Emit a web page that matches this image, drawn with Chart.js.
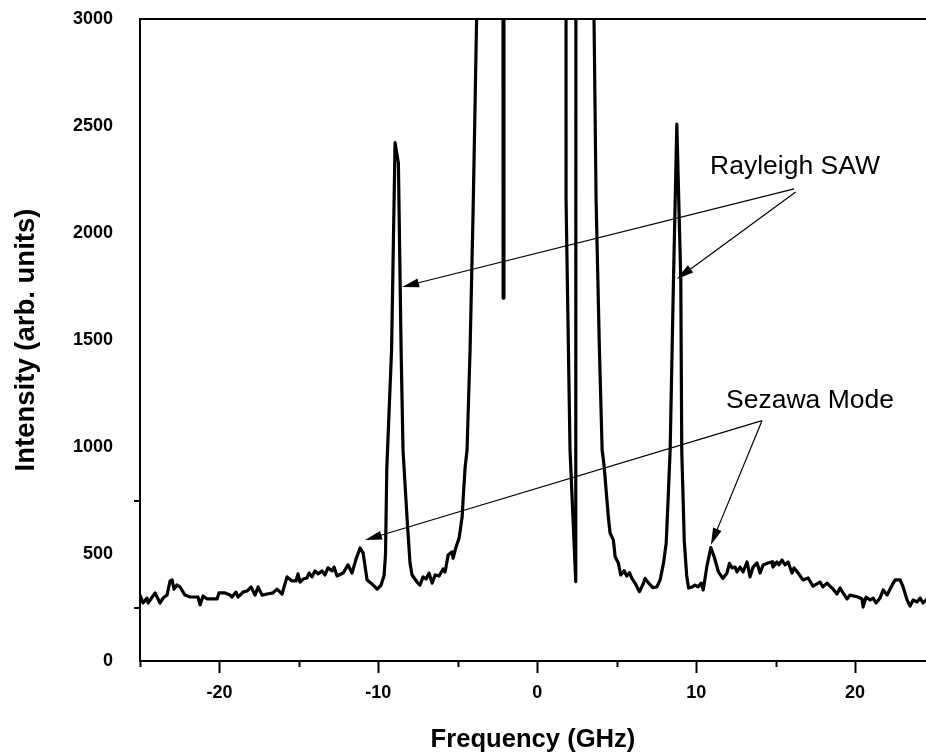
<!DOCTYPE html>
<html>
<head>
<meta charset="utf-8">
<title>Brillouin spectrum</title>
<script src="https://cdn.jsdelivr.net/npm/chart.js@4/dist/chart.umd.min.js"></script>
<style>
    html, body { margin: 0; padding: 0; background: #fff; }
    canvas { display: block; }
</style>
</head>
<body>
<canvas id="spectrumChart" width="926" height="756"></canvas>
<script>
    const freqGHz = [
        -25.00, -24.81, -24.56, -24.49, -24.05, -23.74, -23.55, -23.30, -23.11, -22.98,
        -22.86, -22.67, -22.48, -22.17, -21.85, -21.35, -21.22, -21.03, -20.78, -20.15,
        -20.03, -19.65, -19.33, -19.21, -18.96, -18.83, -18.52, -18.26, -18.01, -17.76,
        -17.57, -17.32, -17.00, -16.63, -16.38, -16.06, -15.75, -15.43, -15.18, -15.06,
        -14.93, -14.74, -14.49, -14.36, -14.17, -13.99, -13.80, -13.54, -13.36, -13.17,
        -12.91, -12.79, -12.60, -12.22, -11.91, -11.66, -11.40, -11.15, -10.96, -10.71,
        -10.40, -10.08, -9.83, -9.64, -9.55, -9.47, -9.17, -8.95, -8.74, -8.57,
        -8.45, -8.20, -8.01, -7.88, -7.57, -7.38, -7.19, -7.00, -6.81, -6.62,
        -6.43, -6.18, -5.93, -5.80, -5.61, -5.36, -5.30, -5.11, -4.92, -4.73,
        -4.67, -4.54, -4.42, -4.23, -4.04, -3.91, -3.82, -3.00, -2.20, -2.15,
        -2.10, 0.00, 1.78, 1.81, 2.06, 2.42, 2.47, 3.55, 3.57, 3.70,
        3.91, 4.08, 4.20, 4.47, 4.58, 4.79, 4.90, 5.10, 5.25, 5.46,
        5.63, 5.80, 5.95, 6.15, 6.43, 6.68, 6.78, 7.05, 7.27, 7.52,
        7.73, 7.94, 8.11, 8.23, 8.36, 8.57, 8.78, 9.03, 9.09, 9.25,
        9.40, 9.52, 9.74, 9.93, 10.12, 10.31, 10.44, 10.67, 10.92, 11.13,
        11.40, 11.67, 11.93, 12.09, 12.26, 12.45, 12.57, 12.76, 12.95, 13.20,
        13.39, 13.58, 13.83, 14.02, 14.21, 14.52, 14.77, 14.83, 15.08, 15.21,
        15.40, 15.59, 15.78, 16.03, 16.16, 16.41, 16.72, 17.04, 17.35, 17.79,
        17.98, 18.23, 18.55, 18.86, 19.05, 19.24, 19.49, 19.68, 20.19, 20.44,
        20.50, 20.69, 20.94, 21.13, 21.32, 21.57, 21.76, 22.01, 22.33, 22.52,
        22.83, 23.02, 23.27, 23.46, 23.65, 23.90, 24.09, 24.28, 24.46
    ];
    const intensity = [
        308, 271, 294, 271, 318, 271, 294, 308, 374, 379,
        336, 355, 346, 308, 299, 299, 262, 304, 290, 290,
        318, 318, 308, 299, 322, 299, 322, 327, 346, 308,
        346, 308, 313, 318, 336, 313, 393, 374, 374, 407,
        369, 383, 388, 411, 393, 421, 407, 421, 402, 435,
        421, 439, 397, 411, 449, 411, 477, 528, 505, 379,
        360, 336, 355, 400, 500, 900, 1453, 2422, 2327, 1453,
        986, 673, 458, 402, 369, 355, 393, 383, 411, 364,
        402, 397, 430, 416, 495, 510, 480, 533, 575, 673,
        752, 907, 986, 1453, 2100, 2621, 3000, 15000, 15000, 1696,
        15000, 15000, 15000, 2154, 986, 371, 15000, 15000, 3000, 2154,
        1453, 986, 916, 674, 598, 565, 487, 458, 402, 422,
        397, 413, 386, 364, 324, 363, 386, 360, 343, 346,
        379, 456, 550, 752, 986, 1780, 2509, 1780, 986, 560,
        400, 341, 346, 355, 346, 364, 332, 441, 530, 487,
        416, 386, 410, 456, 435, 439, 416, 439, 416, 463,
        393, 439, 458, 411, 449, 458, 463, 439, 463, 449,
        472, 449, 463, 411, 435, 411, 379, 388, 350, 369,
        346, 364, 341, 313, 341, 318, 290, 308, 299, 290,
        252, 299, 285, 294, 271, 294, 332, 308, 355, 379,
        379, 346, 285, 257, 285, 276, 294, 271, 285
    ];

    const xMajorTicks = [-20, -10, 0, 10, 20];
    const xMinorTicks = [-25, -15, -5, 5, 15];
    const yTicks = [0, 500, 1000, 1500, 2000, 2500, 3000];
    const yMarkTicks = [250, 750];

    // callouts, in data units
    const noteLabels = [
        { text: 'Rayleigh SAW', x: 10.87, y: 2276 },
        { text: 'Sezawa Mode', x: 11.88, y: 1182 },
    ];
    const noteArrows = [
        { from: [16.16, 2206], to: [-8.51, 1748] },
        { from: [16.26, 2192], to: [8.78, 1785] },
        { from: [14.14, 1123], to: [-10.84, 565] },
        { from: [14.14, 1123], to: [10.92, 542] },
    ];

    const FONT = "'Liberation Sans', Arial, Helvetica, sans-serif";

    function drawArrow(ctx, x1, y1, x2, y2) {
        const ang = Math.atan2(y2 - y1, x2 - x1);
        const len = 17, half = 4.5;
        ctx.beginPath();
        ctx.moveTo(x1, y1);
        ctx.lineTo(x2 - Math.cos(ang) * (len - 2), y2 - Math.sin(ang) * (len - 2));
        ctx.stroke();
        const bx = x2 - Math.cos(ang) * len, by = y2 - Math.sin(ang) * len;
        ctx.beginPath();
        ctx.moveTo(x2, y2);
        ctx.lineTo(bx + Math.sin(ang) * half, by - Math.cos(ang) * half);
        ctx.lineTo(bx - Math.sin(ang) * half, by + Math.cos(ang) * half);
        ctx.closePath();
        ctx.fill();
    }

    const framePlugin = {
        id: 'frame',
        afterDraw(chart) {
            const { ctx, chartArea: a, scales: { x, y } } = chart;
            ctx.save();
            ctx.strokeStyle = '#000';
            ctx.fillStyle = '#000';

            // top border
            ctx.lineWidth = 2;
            ctx.beginPath();
            ctx.moveTo(a.left - 1, a.top);
            ctx.lineTo(a.right, a.top);
            ctx.stroke();

            // short ticks
            xMinorTicks.forEach((v) => {
                const px = Math.round(x.getPixelForValue(v)) + 0.5;
                ctx.beginPath();
                ctx.moveTo(px, a.bottom);
                ctx.lineTo(px, a.bottom + 6);
                ctx.stroke();
            });
            yMarkTicks.forEach((v) => {
                const py = Math.round(y.getPixelForValue(v));
                ctx.beginPath();
                ctx.moveTo(a.left - 6, py);
                ctx.lineTo(a.left, py);
                ctx.stroke();
            });

            // callouts
            ctx.lineWidth = 1.2;
            noteArrows.forEach((n) => {
                drawArrow(ctx,
                    x.getPixelForValue(n.from[0]), y.getPixelForValue(n.from[1]),
                    x.getPixelForValue(n.to[0]), y.getPixelForValue(n.to[1]));
            });
            ctx.font = `26.5px ${FONT}`;
            ctx.textAlign = 'left';
            ctx.textBaseline = 'alphabetic';
            noteLabels.forEach((n) => {
                ctx.fillText(n.text, x.getPixelForValue(n.x), y.getPixelForValue(n.y));
            });
            ctx.restore();
        }
    };

    new Chart(document.getElementById('spectrumChart'), {
        type: 'line',
        data: {
            datasets: [{
                data: freqGHz.map((f, i) => ({ x: f, y: intensity[i] })),
                borderColor: '#000',
                borderWidth: 3.2,
                borderJoinStyle: 'round',
                borderCapStyle: 'round',
                pointRadius: 0,
                tension: 0,
                fill: false,
                clip: 0,
            }],
        },
        options: {
            responsive: false,
            animation: false,
            events: [],
            layout: { padding: { top: 19, right: 0, left: 0, bottom: 0 } },
            plugins: { legend: { display: false }, tooltip: { enabled: false } },
            scales: {
                x: {
                    type: 'linear',
                    min: -25,
                    max: 24.46,
                    afterBuildTicks: (s) => { s.ticks = xMajorTicks.map((v) => ({ value: v })); },
                    afterFit: (s) => { s.height = 95; s.paddingLeft = 0; s.paddingRight = 0; },
                    border: { color: '#000', width: 2 },
                    grid: { drawOnChartArea: false, drawTicks: true, tickLength: 12, tickColor: '#000', tickWidth: 2 },
                    ticks: {
                        color: '#000',
                        padding: 9,
                        maxRotation: 0,
                        font: { family: FONT, size: 18, weight: 'bold' },
                        callback: (v) => String(v),
                    },
                    title: {
                        display: true,
                        text: 'Frequency (GHz)',
                        color: '#000',
                        padding: { top: 0, bottom: 1 },
                        font: { family: FONT, size: 25.6, weight: 'bold' },
                    },
                },
                y: {
                    min: 0,
                    max: 3000,
                    afterBuildTicks: (s) => { s.ticks = yTicks.map((v) => ({ value: v })); },
                    afterFit: (s) => { s.width = 140; s.paddingTop = 0; s.paddingBottom = 0; },
                    border: { color: '#000', width: 2 },
                    grid: { drawOnChartArea: false, drawTicks: false },
                    ticks: {
                        color: '#000',
                        padding: 27,
                        font: { family: FONT, size: 18, weight: 'bold' },
                        callback: (v) => String(v),
                    },
                    title: {
                        display: true,
                        text: 'Intensity (arb. units)',
                        color: '#000',
                        padding: { top: 10, bottom: 0 },
                        font: { family: FONT, size: 27.5, weight: 'bold' },
                    },
                },
            },
        },
        plugins: [framePlugin],
    });
</script>
</body>
</html>
